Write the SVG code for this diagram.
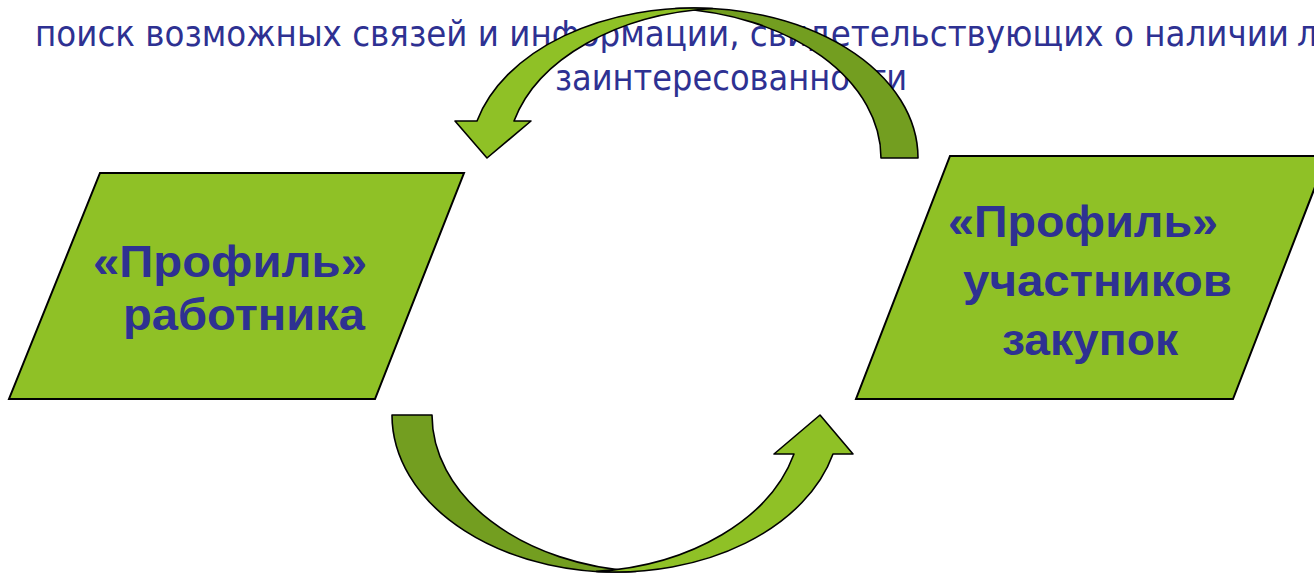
<svg xmlns="http://www.w3.org/2000/svg" width="1314" height="574" viewBox="0 0 1314 574">
<style>
.sub{font-family:"DejaVu Sans Condensed","DejaVu Sans","Noto Sans",sans-serif;font-size:35px;fill:#2E3192}
.lbl{font-family:"Liberation Sans",Arial,sans-serif;font-weight:bold;font-size:45px;fill:#2E3192}
.box{fill:#8FC126;stroke:#000;stroke-width:2;stroke-linejoin:miter}
.light{fill:#8FC126;stroke:#000;stroke-width:1.6;stroke-linejoin:round}
.dark{fill:#739E20;stroke:#000;stroke-width:1.6;stroke-linejoin:round}
</style>
<rect width="1314" height="574" fill="#fff"/>
<g id="subtitle">
<text class="sub" x="35" y="46" textLength="1254" lengthAdjust="spacingAndGlyphs">поиск возможных связей и информации, свидетельствующих о наличии</text>
<text class="sub" x="1297" y="46">личной</text>
<text class="sub" x="555" y="90" textLength="352" lengthAdjust="spacingAndGlyphs">заинтересованности</text>
</g>
<g id="node-employee">
<polygon class="box" points="100,173 464,173 375,399 9,399"/>
<text class="lbl" x="93" y="277" textLength="274" lengthAdjust="spacingAndGlyphs">«Профиль»</text>
<text class="lbl" x="123" y="330" textLength="242" lengthAdjust="spacingAndGlyphs">работника</text>
</g>
<g id="node-participants">
<polygon class="box" points="950,156 1327,156 1233,399 856,399"/>
<text class="lbl" x="948" y="237" textLength="270" lengthAdjust="spacingAndGlyphs">«Профиль»</text>
<text class="lbl" x="963" y="296" textLength="269" lengthAdjust="spacingAndGlyphs">участников</text>
<text class="lbl" x="1002" y="355" textLength="176" lengthAdjust="spacingAndGlyphs">закупок</text>
</g>
<g id="connectors">
<g id="arrow-top">
<path class="dark" d="M 675.5,8.5 A 224 150 0 0 1 918,158 L 881,158 A 224 150 0 0 0 675.5,8.5 Z"/>
<path class="light" d="M 477,121 A 224 150 0 0 1 712.5,8.5 A 224 150 0 0 0 514,121 L 531,121 L 487,158 L 455,121 Z"/>
</g>
<g id="arrow-bottom">
<path class="dark" d="M 392,415 L 432,415 A 224 157 0 0 0 636,571.4 A 224 157 0 0 1 392,415 Z"/>
<path class="light" d="M 596.5,571.4 A 224 157 0 0 0 833,454 L 853,454 L 820,415 L 774,454 L 794,454 A 224 157 0 0 1 596.5,571.4 Z"/>
</g>
</g>
</svg>
